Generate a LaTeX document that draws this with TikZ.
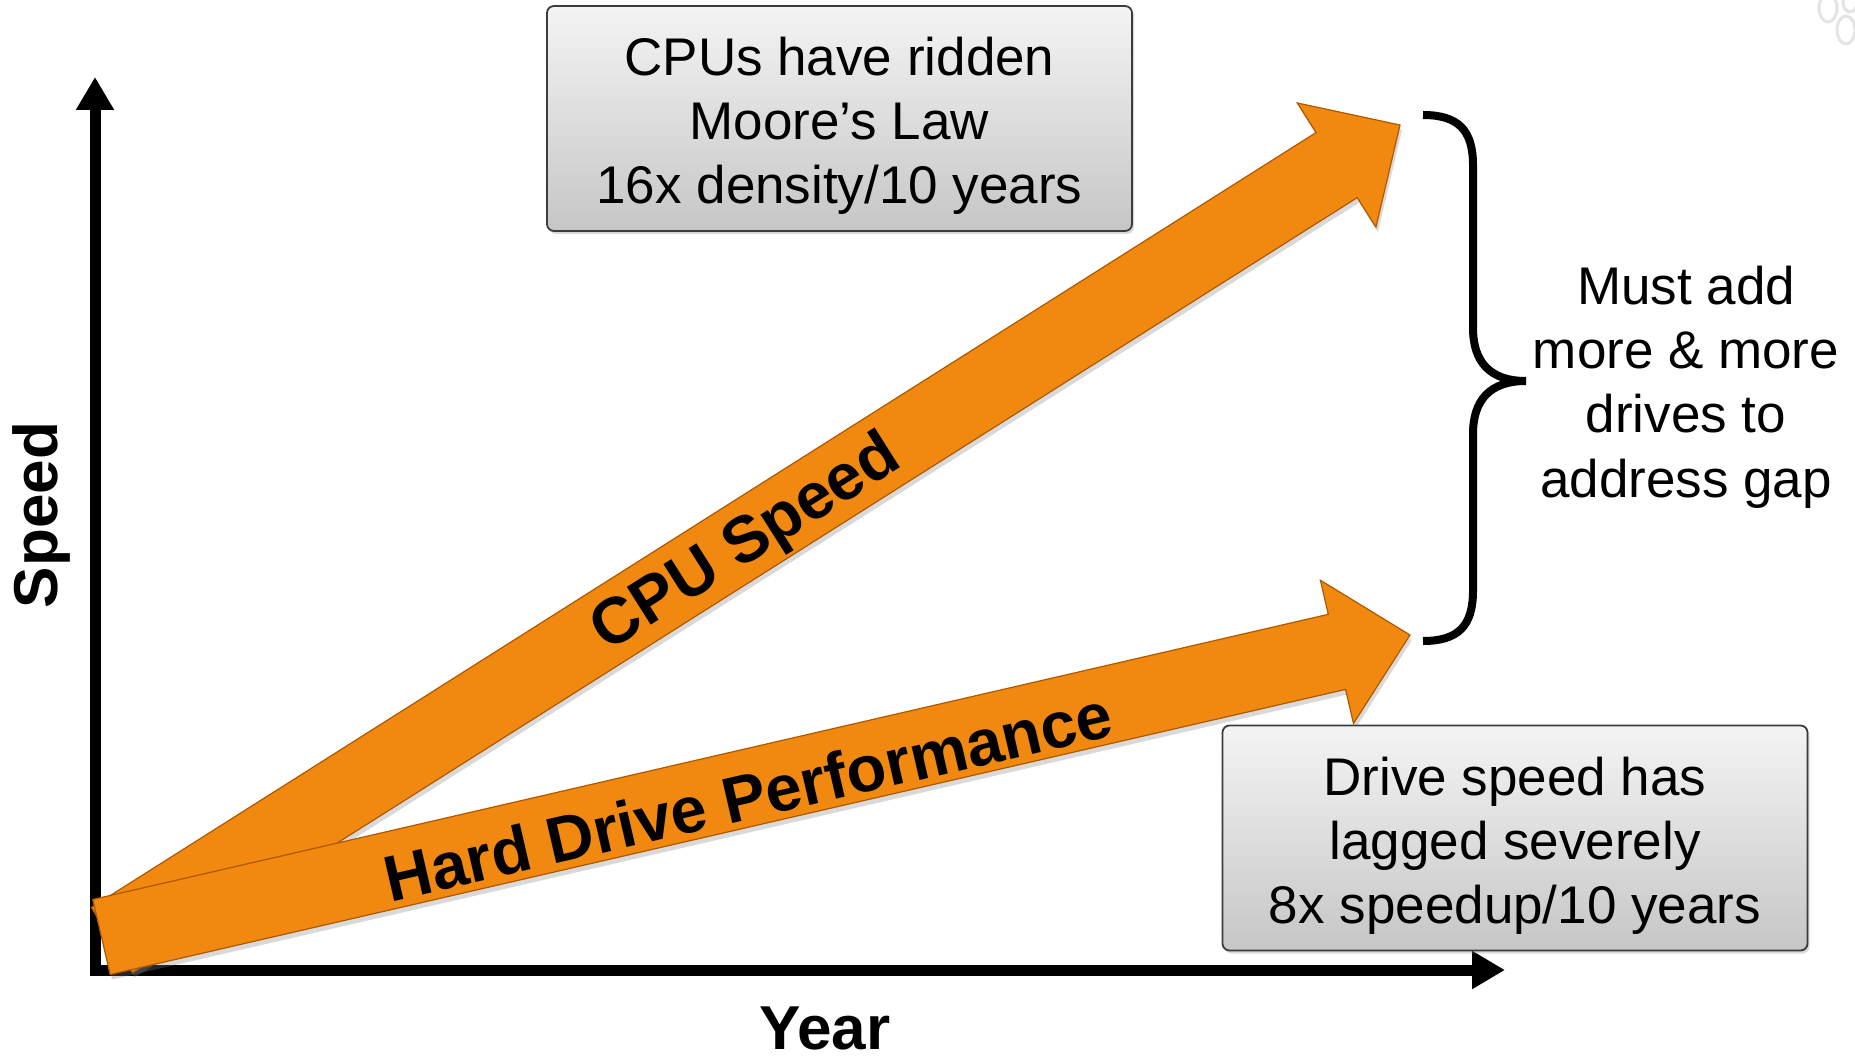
\documentclass[tikz,border=0pt]{standalone}
\usepackage{fontspec}
\setmainfont{Liberation Sans}
\usetikzlibrary{arrows.meta,calc,shadows}
\definecolor{arrfill}{RGB}{241,137,17}
\definecolor{arredge}{RGB}{176,88,0}
\definecolor{boxtop}{RGB}{244,244,244}
\definecolor{boxbot}{RGB}{198,198,198}
\definecolor{boxedge}{RGB}{60,60,60}
\definecolor{decor}{RGB}{228,228,228}
\tikzset{
  infobox/.style={draw=boxedge, line width=1.8pt, rounded corners=7pt,
    top color=boxtop, bottom color=boxbot,
    minimum width=585pt, minimum height=225pt, inner sep=0pt, align=center,
    font=\fontsize{53}{64}\selectfont,
    drop shadow={opacity=0.3, shadow xshift=2pt, shadow yshift=-3pt}},
  blockarrow/.style={draw=arredge, line width=1.2pt, line join=miter, fill=arrfill,
    drop shadow={opacity=0.3, shadow xshift=2pt, shadow yshift=-5pt}},
  axisline/.style={line width=11pt, -{Triangle[width=36pt,length=33pt]}},
  axislabel/.style={font=\fontsize{62}{62}\selectfont\bfseries, inner sep=0pt},
  arrowlabel/.style={font=\fontsize{65}{65}\selectfont\bfseries, inner sep=0pt},
  bracket/.style={line width=8pt},
  plaintext/.style={align=center, inner sep=0pt, font=\fontsize{53}{64.3}\selectfont},
}
\newcommand{\toppad}{\rule{0pt}{53pt}}
\begin{document}
\begin{tikzpicture}[x=1pt,y=-1pt]
\useasboundingbox (0,0) rectangle (1855,1056);

% faint decoration, top right corner
\draw[decor, line width=3pt] (1828,8) ellipse (9 and 14);
\draw[decor, line width=3pt] (1846,30) ellipse (9 and 14);
\draw[decor, line width=3pt] (1850,2) ellipse (7 and 10);

% axes
\coordinate (origin) at (95,970);
\coordinate (ytop) at (95,77);
\coordinate (xend) at (1505,970);
\draw[axisline] ($(origin)+(0,6)$) -- (ytop);
\draw[axisline] ($(origin)+(-5.5,0)$) -- (xend);
\node[axislabel, rotate=90] (speedlbl) at (41,515) {Speed};
\node[axislabel] (yearlbl) at (825,1028) {Year};

% CPU arrow
\coordinate (cT) at (112,940);
\coordinate (cP) at (1400,125);
\path ($(cP)!75pt!(cT)$) coordinate (cB);
\path[blockarrow] ($(cT)!38.5pt!90:(cP)$) -- ($(cB)!38.5pt!90:(cP)$) -- ($(cB)!73.5pt!90:(cP)$)
  -- (cP) -- ($(cB)!73.5pt!-90:(cP)$) -- ($(cB)!38.5pt!-90:(cP)$) -- ($(cT)!38.5pt!-90:(cP)$) -- cycle;

% Hard drive arrow
\coordinate (hT) at (101.5,937);
\coordinate (hP) at (1410,635);
\path ($(hP)!75pt!(hT)$) coordinate (hB);
\path[blockarrow] ($(hT)!38.5pt!90:(hP)$) -- ($(hB)!38.5pt!90:(hP)$) -- ($(hB)!73.5pt!90:(hP)$)
  -- (hP) -- ($(hB)!73.5pt!-90:(hP)$) -- ($(hB)!38.5pt!-90:(hP)$) -- ($(hT)!38.5pt!-90:(hP)$) -- cycle;

\node[arrowlabel, rotate=32.3] (cpulbl) at (747,545) {CPU Speed};
\node[arrowlabel, rotate=13] (hdlbl) at (748,796) {Hard Drive Performance};

% boxes
\node[infobox] (cpubox) at (839.5,118.5) {\toppad CPUs have ridden\\Moore’s Law\\16x density/10 years};
\node[infobox] (drivebox) at (1515,838) {\toppad Drive speed has\\lagged severely\\8x speedup/10 years};

% brace
\coordinate (brtop) at (1423,115);
\coordinate (brtip) at (1526,381);
\coordinate (brbot) at (1423,641);
\draw[bracket] (brtop) .. controls (1458,115) and (1473,130) .. (1473,165) -- (1473,328)
  .. controls (1473,362) and (1490,381) .. (brtip)
  .. controls (1490,381) and (1473,400) .. (1473,434) -- (1473,591)
  .. controls (1473,626) and (1458,641) .. (brbot);

\node[plaintext] (gaptext) at (1686,387) {Must add\\more \& more\\drives to\\address gap};
\end{tikzpicture}
\end{document}
